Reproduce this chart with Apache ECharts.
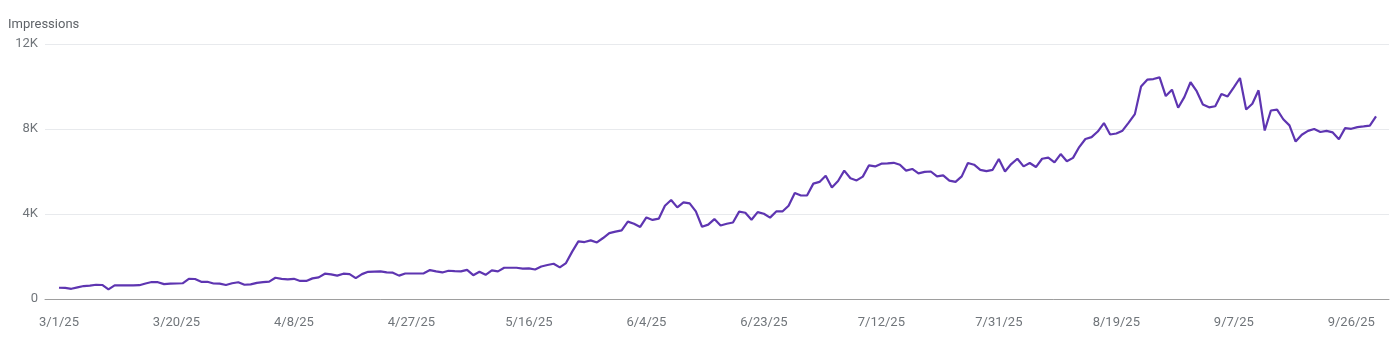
<!DOCTYPE html>
<html>
<head>
<meta charset="utf-8">
<script src="https://cdn.jsdelivr.net/npm/echarts@6/dist/echarts.min.js"></script>
<style>
html,body{margin:0;padding:0;background:#fff;}
#chart{width:1390px;height:352px;}
</style>
</head>
<body>
<div id="chart"></div>
<script>
// Daily dates from 3/1/25 to 9/30/25 (index 0..213)
const startDate = [2025, 2, 1];
const dayCount = 214;
const categories = [];
for (let i = 0; i < dayCount; i++) {
  const d = new Date(startDate[0], startDate[1], startDate[2] + i);
  categories.push((d.getMonth() + 1) + '/' + d.getDate() + '/' + String(d.getFullYear()).slice(2));
}
const tickIndices = [0, 19, 38, 57, 76, 95, 114, 133, 152, 171, 190, 209];
const yTicks = [0, 4000, 8000, 12000];

const impressions = [
  530, 520, 480, 550, 610, 630, 670, 660, 450, 640,
  640, 640, 640, 650, 730, 800, 790, 700, 720, 730,
  740, 950, 940, 810, 810, 730, 720, 660, 740, 790,
  670, 690, 760, 790, 820, 1000, 950, 920, 950, 850,
  850, 970, 1020, 1190, 1160, 1100, 1190, 1170, 980, 1170,
  1280, 1290, 1300, 1250, 1240, 1100, 1200, 1200, 1200, 1210,
  1360, 1300, 1250, 1330, 1310, 1300, 1370, 1120, 1280, 1140,
  1350, 1300, 1470, 1470, 1470, 1430, 1440, 1390, 1530, 1600,
  1660, 1490, 1690, 2230, 2710, 2680, 2760, 2660, 2870, 3100,
  3170, 3230, 3640, 3540, 3390, 3840, 3720, 3780, 4390, 4660,
  4310, 4550, 4500, 4120, 3400, 3500, 3760, 3460, 3540, 3600,
  4110, 4060, 3730, 4090, 4010, 3830, 4120, 4120, 4390, 4990,
  4870, 4880, 5430, 5510, 5800, 5250, 5550, 6040, 5680, 5580,
  5760, 6290, 6240, 6370, 6380, 6410, 6320, 6040, 6120, 5910,
  5980, 6000, 5770, 5820, 5570, 5510, 5770, 6400, 6320, 6080,
  6020, 6080, 6590, 6000, 6350, 6600, 6240, 6400, 6210, 6600,
  6650, 6430, 6820, 6480, 6640, 7150, 7530, 7620, 7880, 8280,
  7740, 7790, 7920, 8300, 8700, 10000, 10320, 10350, 10430, 9550,
  9850, 9000, 9500, 10200, 9780, 9150, 9020, 9070, 9650, 9530,
  9960, 10400, 8920, 9190, 9820, 7930, 8870, 8910, 8460, 8170,
  7410, 7730, 7910, 8000, 7860, 7910, 7840, 7520, 8040, 8010,
  8090, 8120, 8160, 8590
];

const seriesData = impressions.map((v, i) => [i, v]);

const chart = echarts.init(document.getElementById('chart'), null, {renderer: 'canvas'});
chart.setOption({
  animation: false,
  backgroundColor: '#fff',
  textStyle: {fontFamily: 'Roboto, "Noto Sans", sans-serif'},
  graphic: [{
    type: 'text',
    left: 8,
    top: 18,
    style: {text: 'Impressions', fill: '#5f6368', font: '13px Roboto, sans-serif'}
  }],
  grid: {left: 45, right: 1, top: 44, bottom: 53, containLabel: false},
  xAxis: {
    type: 'value',
    min: -2.26,
    max: 215.1,
    axisLine: {show: true, onZero: false, lineStyle: {color: '#9e9e9e', width: 1}},
    axisTick: {show: false},
    splitLine: {show: false},
    axisLabel: {
      customValues: tickIndices,
      formatter: v => categories[Math.round(v)],
      color: '#70757a',
      fontSize: 13,
      margin: 17,
      fontFamily: 'Roboto, sans-serif'
    }
  },
  yAxis: {
    type: 'value',
    min: yTicks[0],
    max: yTicks[yTicks.length - 1],
    interval: 4000,
    axisLine: {show: false},
    axisTick: {show: false},
    splitLine: {show: true, lineStyle: {color: '#e8eaed', width: 1}},
    axisLabel: {
      formatter: v => v === 0 ? '0' : (v / 1000) + 'K',
      color: '#70757a',
      fontSize: 13,
      margin: 7,
      fontFamily: 'Roboto, sans-serif'
    }
  },
  series: [{
    type: 'line',
    data: seriesData,
    showSymbol: false,
    symbol: 'none',
    lineStyle: {color: '#5e35b1', width: 2.2},
    itemStyle: {color: '#5e35b1'},
    z: 3
  }]
});
</script>
</body>
</html>
